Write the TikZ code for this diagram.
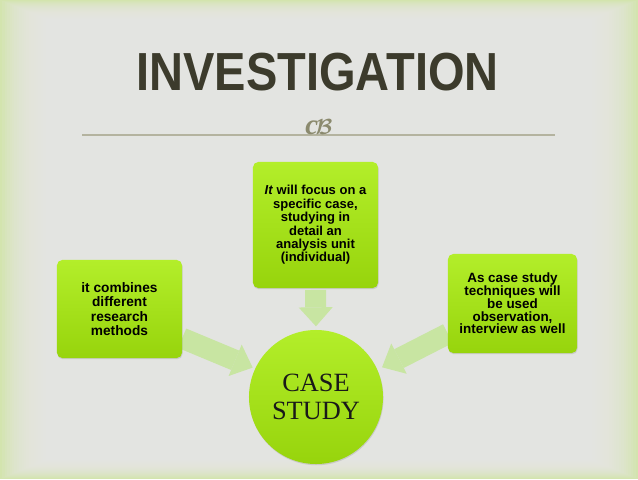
\documentclass[tikz,border=0pt]{standalone}
\usepackage{fontspec}
\setmainfont{Liberation Sans}
\newfontfamily\casefont{Liberation Serif}
\usetikzlibrary{arrows.meta,shadows}
\definecolor{InvEdge}{HTML}{D3E4AE}
\definecolor{InvGray}{HTML}{EBEBE9}
\definecolor{InvTitle}{HTML}{3C3B2C}
\definecolor{InvRule}{HTML}{B4B39F}
\definecolor{InvOrn}{HTML}{8B8A6E}
\definecolor{InvLimeT}{HTML}{B3EE2A}
\definecolor{InvLimeB}{HTML}{97D40C}
\definecolor{InvArrow}{HTML}{C8E5A2}
\pgfdeclarelayer{bg}
\pgfsetlayers{bg,main}
\tikzset{
  limebox/.style={rectangle,rounded corners=6pt,top color=InvLimeT,bottom color=InvLimeB,
    align=center,inner sep=0pt,
    drop shadow={shadow xshift=0.6pt,shadow yshift=-1.4pt,opacity=0.25}},
  fatarrow/.style={draw=InvArrow,line width=23.9pt,
    -{Triangle[length=21.6pt,width=38.7pt,line width=0pt]}}
}

\begin{document}
\begin{tikzpicture}[x=0.04cm,y=-0.04cm]
  \useasboundingbox (0,0) rectangle (638,479);
  % backdrop
  \begin{pgfonlayer}{bg}
    \fill[InvEdge] (0,0) rectangle (638,479);
    \foreach \k in {1,...,24}
      \fill[InvGray,opacity=0.12] (\k*2.4,\k*1.0) rectangle (638-\k*2.4,479-\k*1.0);
  \end{pgfonlayer}

  \node[font=\fontsize{61}{61}\selectfont\bfseries,text=InvTitle,anchor=base,inner sep=0pt] (ttl)
    at (317.5,90) {\scalebox{0.877}[1]{INVESTIGATION}};
  \coordinate (rulel) at (82,135);
  \coordinate (ruler) at (555,135);
  \draw[InvRule,line width=1.6pt] (rulel) -- (ruler);
  \node[text=InvOrn,font=\fontsize{33}{33}\selectfont\casefont\bfseries\itshape,inner sep=0pt] (orn)
    at (319,127) {c\kern-3pt\relax{\boldmath$\mathcal{B}$}};

  \node[limebox,minimum width=5cm,minimum height=3.92cm,
    font=\fontsize{15.6}{16.3}\selectfont\bfseries] (meth) at (119.5,309)
    {it combines\\different\\research\\methods};
  \node[limebox,minimum width=5cm,minimum height=5.04cm,
    font=\fontsize{14.8}{15.3}\selectfont\bfseries] (unit) at (315.5,225)
    {\textit{It} will focus on a\\specific case,\\studying in\\detail an\\analysis unit\\(individual)};
  \node[limebox,minimum width=5.16cm,minimum height=3.96cm,
    font=\fontsize{15.3}{14.6}\selectfont\bfseries] (obs) at (512.5,303.5)
    {As case study\\techniques will\\be used\\observation,\\interview as well};
  \node[circle,minimum size=5.36cm,top color=InvLimeT,bottom color=InvLimeB,align=center,
    font=\fontsize{30}{32}\selectfont\casefont,text=black!90,
    drop shadow={shadow xshift=0.6pt,shadow yshift=-1.4pt,opacity=0.25}] (cs) at (316,397)
    {CASE\\STUDY};

  % arrows into the case
  \begin{pgfonlayer}{bg}
    \draw[fatarrow,shorten <=2pt,shorten >=4pt] (unit.south) -- (cs.north);
    \draw[fatarrow,shorten >=3pt] (meth.-25) -- (cs.155);
    \draw[fatarrow,shorten >=6pt] (obs.205) -- (cs.24);
  \end{pgfonlayer}
\end{tikzpicture}
\end{document}
